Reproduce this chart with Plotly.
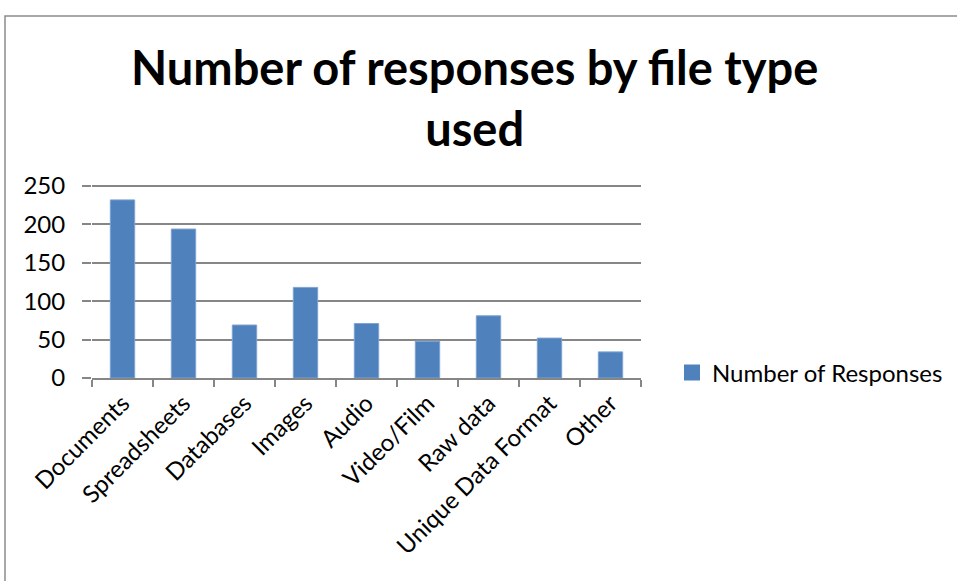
import plotly.graph_objects as go

categories = ["Documents", "Spreadsheets", "Databases", "Images", "Audio",
              "Video/Film", "Raw data", "Unique Data Format", "Other"]
responses = [232, 194, 69, 118, 71, 48, 81, 52, 34]
y_ticks = [0, 50, 100, 150, 200, 250]
y_max = 254

W, H = 957, 581
L, R, B = 92, 641, 378          # plot area edges in pixels
T = round(B - 192 * y_max / 250)  # top edge so that 250 sits at y=186

fig = go.Figure()
fig.add_trace(
    go.Bar(
        x=categories,
        y=responses,
        name="Number of Responses",
        marker=dict(color="#4F81BD", line=dict(color="#7EA3D1", width=1)),
        width=0.4,
        showlegend=False,
    )
)
# legend entry with a larger square key
fig.add_trace(
    go.Scatter(
        x=[None], y=[None], mode="markers",
        name="Number of Responses",
        marker=dict(symbol="square", size=16, color="#4F81BD"),
    )
)

FONT = "Lato"
GRID = "#868686"
TICK_SIZE = 24

fig.update_layout(
    width=W, height=H,
    margin=dict(l=L, r=W - R, t=T, b=H - B, autoexpand=False),
    paper_bgcolor="white",
    plot_bgcolor="white",
    font=dict(family=FONT, size=TICK_SIZE, color="black"),
    showlegend=True,
    legend=dict(
        x=(672 - L) / (R - L), y=(B - 373) / (B - T),
        xanchor="left", yanchor="middle",
        font=dict(family=FONT, size=TICK_SIZE, color="black"),
        bgcolor="rgba(0,0,0,0)",
        itemwidth=30,
    ),
    annotations=[
        dict(
            text="<b>Number of responses by file type<br>used</b>",
            xref="paper", yref="paper",
            x=(474 - L) / (R - L), y=1 + (T - 97) / (B - T),
            xanchor="center", yanchor="middle",
            showarrow=False,
            font=dict(family=FONT, size=47, color="black"),
            align="center",
        )
    ],
    shapes=[
        dict(
            type="rect", xref="paper", yref="paper",
            x0=(5 - L) / (R - L), x1=(965 - L) / (R - L),
            y0=-(600 - B) / (B - T), y1=1 + (T - 16) / (B - T),
            line=dict(color="#8C8C8C", width=1.5),
            fillcolor="rgba(0,0,0,0)",
            layer="below",
        )
    ],
)

fig.update_xaxes(
    type="category",
    tickangle=-45,
    tickson="boundaries",
    ticks="outside", ticklen=7, tickcolor=GRID, tickwidth=1.5,
    showline=True, linecolor=GRID, linewidth=1.5,
    showgrid=False,
    tickfont=dict(family=FONT, size=TICK_SIZE, color="black"),
)
fig.update_yaxes(
    range=[0, y_max],
    tickvals=y_ticks,
    ticks="outside", ticklen=9, tickcolor=GRID, tickwidth=1.5,
    ticklabelstandoff=12,
    showline=False,
    showgrid=True, gridcolor=GRID, gridwidth=1.5,
    zeroline=False,
    tickfont=dict(family=FONT, size=TICK_SIZE, color="black"),
)

fig.write_html("out.html")
